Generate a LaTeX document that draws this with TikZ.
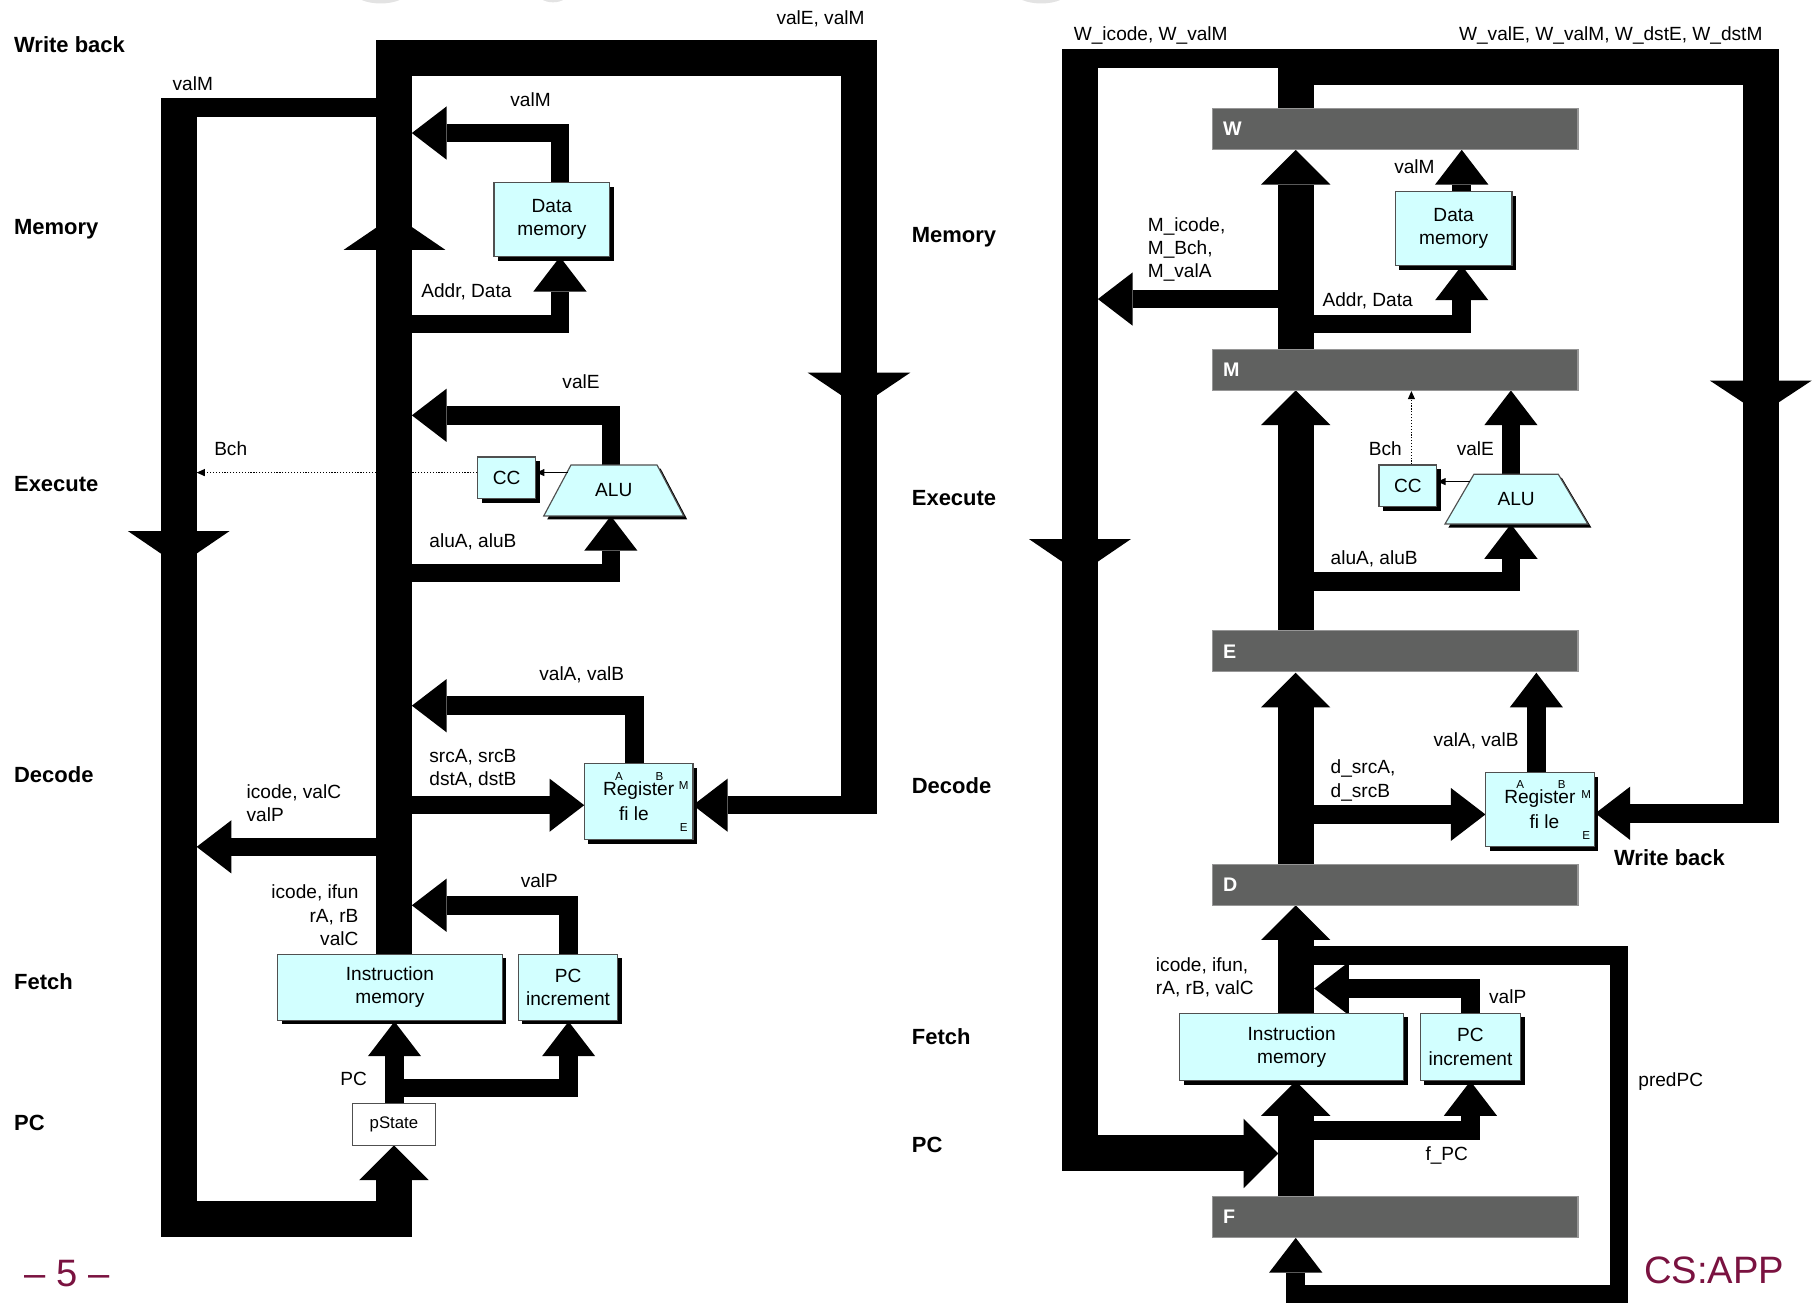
\documentclass[tikz,border=0pt]{standalone}
\usepackage{fontspec}
\setmainfont{Liberation Sans}
\usetikzlibrary{arrows.meta,shadows}
\definecolor{boxcyan}{RGB}{210,255,255}
\definecolor{boxline}{RGB}{80,80,80}
\definecolor{regfill}{RGB}{96,97,96}
\definecolor{regline}{RGB}{150,150,150}
\definecolor{slidered}{RGB}{122,18,64}
\tikzset{
  lbl/.style={font=\fontsize{16.5}{20}\selectfont, inner sep=0pt, anchor=base west, align=left},
  lblr/.style={font=\fontsize{16.5}{20}\selectfont, inner sep=0pt, anchor=base east, align=right},
  stagelbl/.style={font=\fontsize{19}{22}\selectfont\bfseries, inner sep=0pt, anchor=base west},
  blackshadow/.style={drop shadow={shadow xshift=3.5pt, shadow yshift=-3.5pt, fill=black, opacity=1}},
  unitbox/.style={draw=boxline, line width=1pt, fill=boxcyan, inner sep=0pt, align=center,
     font=\fontsize{16.5}{20}\selectfont, blackshadow},
  portlbl/.style={font=\fontsize{10}{10}\selectfont, inner sep=0pt},
  preg/.style={draw=regline, line width=1pt, fill=regfill, inner sep=0pt,
     minimum width=316pt, minimum height=35.5pt},
  preglbl/.style={font=\fontsize{17}{17}\selectfont\bfseries, text=white, anchor=west, inner sep=0pt},
  wide/.style={line width=31pt},
  narrow/.style={line width=16pt},
  wtip/.style={wide, -{Triangle[width=60pt,length=30pt,line width=0pt]}},
  ntip/.style={narrow, -{Triangle[width=46pt,length=30pt,line width=0pt]}},
  smallarr/.style={line width=0.8pt, -{Triangle[width=6pt,length=7pt]}},
  dotarr/.style={line width=1pt, dash pattern=on 1pt off 1.5pt, -{Triangle[width=6pt,length=7pt]}},
}
\begin{document}
\begin{tikzpicture}[x=1pt,y=-1pt]
\useasboundingbox (0,0) rectangle (1568,1126);

% faint decorations at the top edge
\fill[gray!22] (329,-7) ellipse (23 and 10);
\fill[gray!22] (478,-7) ellipse (14 and 9);
\fill[gray!22] (900,-7) ellipse (23 and 10);

% ================= LEFT (SEQ) =================
% dotted Bch line (behind the bus)
\node[unitbox, minimum width=50pt, minimum height=36pt] (ccL) at (438,413) {CC};
\coordinate (bchL) at (170,408.5);
\draw[dotarr] (ccL.west |- 0,408.5) -- (bchL);

% central bus with loop to register file
\draw[wide] (340.5,825) -- (340.5,50.5) -- (742.5,50.5) -- (742.5,704);
\draw[ntip] (758,696) -- (599,696);
\fill (297,216) -- (341,186) -- (385,216) -- cycle;
\fill (698,322) -- (742.5,352) -- (787,322) -- cycle;

% valM loop to pState
\draw[narrow] (325,93) -- (139,93);
\draw[wtip] (154.5,85) -- (154.5,1053.5) -- (340.5,1053.5) -- (340.5,990);
\fill (110.5,459) -- (154.5,489) -- (198.5,459) -- cycle;

% memory stage
\draw[ntip] (484,158) -- (484,115) -- (356,115);
\draw[ntip] (341,280) -- (484,280) -- (484,222);
% execute stage
\draw[ntip] (528,402) -- (528,359) -- (356,359);
\draw[ntip] (341,495.5) -- (528,495.5) -- (528,446);
% decode stage
\draw[ntip] (548.5,660) -- (548.5,610) -- (356,610);
\draw[ntip] (341,696) -- (505,696);
\draw[ntip] (341,732) -- (170,732);
% fetch stage
\draw[ntip] (491.5,825) -- (491.5,782.5) -- (356,782.5);
\draw[ntip] (341,954) -- (341,883);
\draw[ntip] (341,940.5) -- (491.5,940.5) -- (491.5,883);

% units
\node[unitbox, minimum width=100pt, minimum height=64pt] (dmemL) at (477,190) {Data\\memory};
\fill (496.5,405) -- (571,405) -- (594,449) -- (473,449) -- cycle;
\filldraw[draw=boxline, line width=1pt, fill=boxcyan] (493.5,402) -- (568,402) -- (591,446) -- (470,446) -- cycle;
\node[font=\fontsize{16.5}{20}\selectfont, inner sep=0pt] (aluL) at (530.5,424) {ALU};
\draw[smallarr] (491,408.5) -- (ccL.east |- 0,408.5);
\node[unitbox, minimum width=94pt, minimum height=66pt] (regL) at (552,693) {};
\node[font=\fontsize{16.5}{20}\selectfont, inner sep=0pt] at (552,683) {Register};
\node[font=\fontsize{16.5}{20}\selectfont, inner sep=0pt] at (548,703) {fi le};
\node[portlbl] at (535,671) {A};
\node[portlbl] at (570,671) {B};
\node[portlbl] at (591,679) {M};
\node[portlbl] at (591,715) {E};
\node[unitbox, minimum width=194pt, minimum height=57pt] (imemL) at (337,853.5) {Instruction\\memory};
\node[unitbox, minimum width=86pt, minimum height=57pt] (pcincL) at (491,853.5) {PC\\increment};
\node[draw=boxline, line width=0.8pt, fill=white, minimum width=72pt, minimum height=36pt, inner sep=0pt,
      font=\fontsize{14.5}{16}\selectfont] (pstate) at (340.5,972) {pState};

% labels
\node[stagelbl] at (12,45) {Write back};
\node[stagelbl] at (12,203) {Memory};
\node[stagelbl] at (12,425) {Execute};
\node[stagelbl] at (12,676) {Decode};
\node[stagelbl] at (12,855) {Fetch};
\node[stagelbl] at (12,977) {PC};
\node[lbl] at (671,21) {valE, valM};
\node[lbl] at (149,78) {valM};
\node[lbl] at (441,92) {valM};
\node[lbl] at (364,257) {Addr, Data};
\node[lbl] at (486,336) {valE};
\node[lbl] at (185,394) {Bch};
\node[lbl] at (371,473) {aluA, aluB};
\node[lbl] at (466,588) {valA, valB};
\node[lbl] at (371,679) {srcA, srcB\\dstA, dstB};
\node[lbl] at (213,710) {icode, valC\\valP};
\node[lblr] at (310,817) {icode, ifun\\rA, rB\\valC};
\node[lbl] at (450,767) {valP};
\node[lbl] at (294,938) {PC};

% ================= RIGHT (PIPE) =================
\node[unitbox, minimum width=50pt, minimum height=36pt] (ccR) at (1217,420) {CC};

% write-back buses
\draw[wide] (1120,94) -- (1120,57.8) -- (1522,57.8) -- (1522,711);
\draw[ntip] (1538,703) -- (1379,703);
\draw[narrow] (1120,50.5) -- (918,50.5);
\draw[wtip] (933.5,42.3) -- (933.5,997) -- (1105,997);
\fill (889.5,466) -- (933.5,496) -- (977.5,466) -- cycle;
\fill (1478,329) -- (1522,358) -- (1566,329) -- cycle;

% memory stage
\draw[wtip] (1120,302) -- (1120,129.5);
\draw[ntip] (1120,258.5) -- (949,258.5);
\draw[ntip] (1120,280) -- (1263.5,280) -- (1263.5,229.5);
\draw[ntip] (1263.5,165.5) -- (1263.5,129.5);
% execute stage
\draw[wtip] (1120,545) -- (1120,337.5);
\draw[ntip] (1306,410) -- (1306,337.5);
\draw[ntip] (1120,502.5) -- (1306,502.5) -- (1306,453);
\draw[dotarr] (ccR.north -| 1220,0) -- (1220,338);
% decode stage
\draw[wtip] (1120,747) -- (1120,581.5);
\draw[ntip] (1328,668) -- (1328,581.5);
\draw[ntip] (1120,704) -- (1284,704);
% fetch stage
\draw[wtip] (1120,876) -- (1120,782.5);
\draw[ntip] (1120,826) -- (1399.5,826) -- (1399.5,1119) -- (1120,1119) -- (1120,1070);
\draw[ntip] (1271,876) -- (1271,854.5) -- (1136,854.5);
\draw[wtip] (1120,1034) -- (1120,934.5);
\draw[ntip] (1120,977) -- (1271,977) -- (1271,934.5);

% pipeline registers
\node[preg] (W) at (1206,111.5) {};
\node[preg] (M) at (1206,319.5) {};
\node[preg] (E) at (1206,563) {};
\node[preg] (D) at (1206,765) {};
\node[preg] (F) at (1206,1052) {};
\node[preglbl] at (1057,111.5) {W};
\node[preglbl] at (1057,319.5) {M};
\node[preglbl] at (1057,563) {E};
\node[preglbl] at (1057,765) {D};
\node[preglbl] at (1057,1052) {F};

% units
\node[unitbox, minimum width=101pt, minimum height=64pt] (dmemR) at (1256.5,197.5) {Data\\memory};
\fill (1277,413) -- (1350,413) -- (1375.5,456) -- (1252,456) -- cycle;
\filldraw[draw=boxline, line width=1pt, fill=boxcyan] (1274,410) -- (1347,410) -- (1372.5,453) -- (1249,453) -- cycle;
\node[font=\fontsize{16.5}{20}\selectfont, inner sep=0pt] (aluR) at (1310.5,431.5) {ALU};
\draw[smallarr] (1271,416.3) -- (ccR.east |- 0,416.3);
\node[unitbox, minimum width=94pt, minimum height=64pt] (regR) at (1331,700) {};
\node[font=\fontsize{16.5}{20}\selectfont, inner sep=0pt] at (1331,690) {Register};
\node[font=\fontsize{16.5}{20}\selectfont, inner sep=0pt] at (1335,710) {fi le};
\node[portlbl] at (1314,678) {A};
\node[portlbl] at (1350,678) {B};
\node[portlbl] at (1371,687) {M};
\node[portlbl] at (1371,722) {E};
\node[unitbox, minimum width=194pt, minimum height=58pt] (imemR) at (1116.5,905) {Instruction\\memory};
\node[unitbox, minimum width=87pt, minimum height=58pt] (pcincR) at (1271,905) {PC\\increment};

% labels
\node[stagelbl] at (788,210) {Memory};
\node[stagelbl] at (788,437) {Execute};
\node[stagelbl] at (788,686) {Decode};
\node[stagelbl] at (788,903) {Fetch};
\node[stagelbl] at (788,996) {PC};
\node[stagelbl] at (1395,748) {Write back};
\node[lbl] at (928,35) {W\_icode, W\_valM};
\node[lbl] at (1261,35) {W\_valE, W\_valM, W\_dstE, W\_dstM};
\node[lbl] at (1205,150) {valM};
\node[lbl] at (992,240) {M\_icode,\\M\_Bch,\\M\_valA};
\node[lbl] at (1143,265) {Addr, Data};
\node[lbl] at (1183,394) {Bch};
\node[lbl] at (1259,394) {valE};
\node[lbl] at (1150,488) {aluA, aluB};
\node[lbl] at (1239,645) {valA, valB};
\node[lbl] at (1150,689) {d\_srcA,\\d\_srcB};
\node[lbl] at (999,860) {icode, ifun,\\rA, rB, valC};
\node[lbl] at (1287,867) {valP};
\node[lbl] at (1416,939) {predPC};
\node[lbl] at (1232,1003) {f\_PC};

% slide footer
\node[font=\fontsize{33}{33}\selectfont, text=slidered, inner sep=0pt, anchor=west] (pagenum) at (21,1101) {– 5 –};
\node[font=\fontsize{33}{33}\selectfont, text=slidered, inner sep=0pt, anchor=west] (csapp) at (1421,1098) {CS:APP};
\end{tikzpicture}
\end{document}
